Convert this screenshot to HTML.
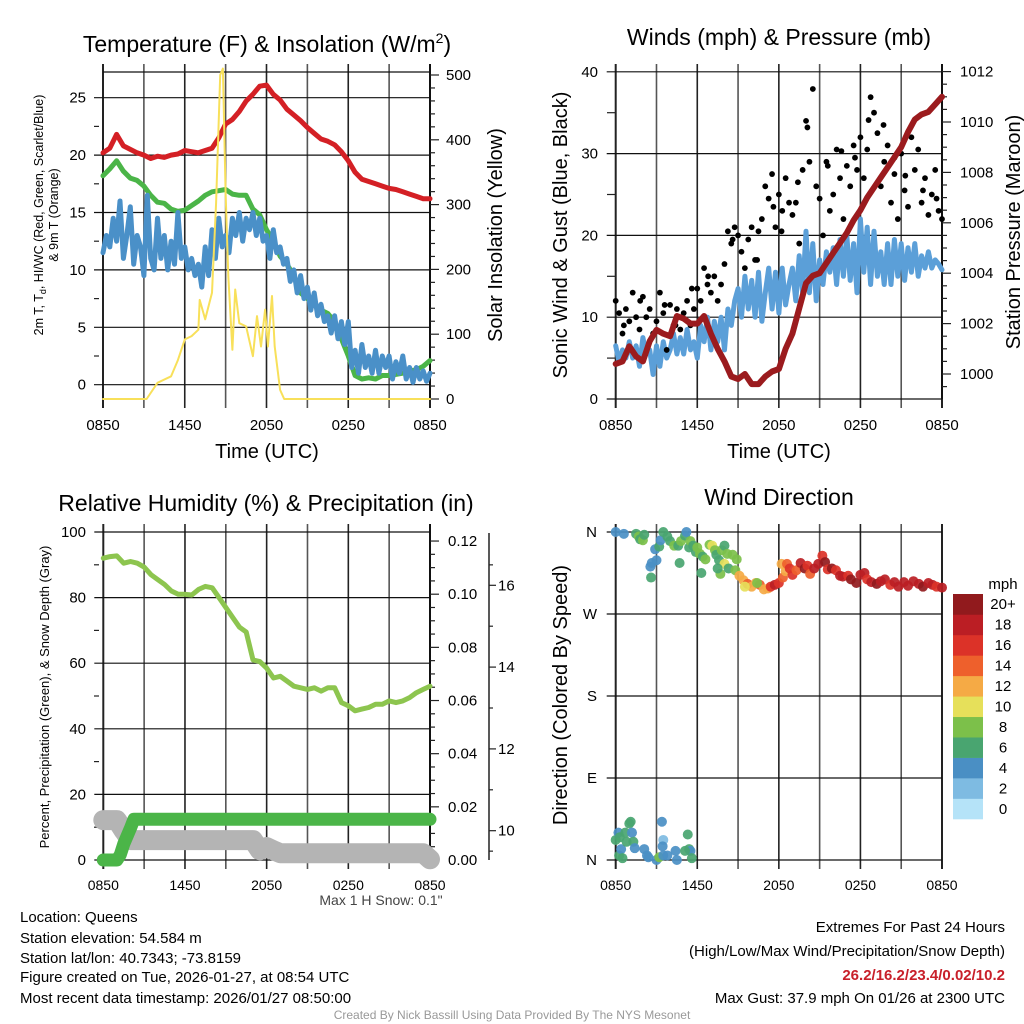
<!DOCTYPE html>
<html><head><meta charset="utf-8"><style>
html,body{margin:0;padding:0;background:#fff;}
svg{display:block;font-family:"Liberation Sans",Arial,sans-serif;}
</style></head><body>
<svg id="chart" width="1024" height="1024" viewBox="0 0 1024 1024" xmlns="http://www.w3.org/2000/svg">
<rect width="1024" height="1024" fill="#fff"/>
<text x="267" y="52" font-size="23" text-anchor="middle">Temperature (F) &amp; Insolation (W/m<tspan font-size="14" dy="-9">2</tspan><tspan dy="9">)</tspan></text>
<text x="779" y="45" font-size="23" text-anchor="middle">Winds (mph) &amp; Pressure (mb)</text>
<text x="266" y="511" font-size="23" text-anchor="middle">Relative Humidity (%) &amp; Precipitation (in)</text>
<text x="779" y="505" font-size="23" text-anchor="middle">Wind Direction</text>
<text transform="translate(43,215) rotate(-90)" font-size="12.5" text-anchor="middle">2m T, T<tspan font-size="9" dy="3">d</tspan><tspan dy="-3">, HI/WC (Red, Green, Scarlet/Blue)</tspan></text>
<text transform="translate(58,215) rotate(-90)" font-size="12.5" text-anchor="middle">&amp; 9m T (Orange)</text>
<text transform="translate(502,235) rotate(-90)" font-size="20" text-anchor="middle">Solar Insolation (Yellow)</text>
<text x="267" y="458" font-size="20" text-anchor="middle">Time (UTC)</text>
<text transform="translate(567,235) rotate(-90)" font-size="20" text-anchor="middle">Sonic Wind &amp; Gust (Blue, Black)</text>
<text transform="translate(1020,232) rotate(-90)" font-size="20" text-anchor="middle">Station Pressure (Maroon)</text>
<text x="779" y="458" font-size="20" text-anchor="middle">Time (UTC)</text>
<text transform="translate(49,697) rotate(-90)" font-size="13" text-anchor="middle">Percent, Precipitation (Green), &amp; Snow Depth (Gray)</text>
<text transform="translate(567,695) rotate(-90)" font-size="20" text-anchor="middle">Direction (Colored By Speed)</text>
<text x="381" y="905" font-size="14" fill="#444" text-anchor="middle">Max 1 H Snow: 0.1"</text>
<g font-size="15">
<text x="20" y="922">Location: Queens</text>
<text x="20" y="943">Station elevation: 54.584 m</text>
<text x="20" y="963">Station lat/lon: 40.7343; -73.8159</text>
<text x="20" y="982">Figure created on Tue, 2026-01-27, at 08:54 UTC</text>
<text x="20" y="1003">Most recent data timestamp: 2026/01/27 08:50:00</text>
</g>
<g font-size="15" text-anchor="end">
<text x="1005" y="932">Extremes For Past 24 Hours</text>
<text x="1005" y="956">(High/Low/Max Wind/Precipitation/Snow Depth)</text>
<text x="1005" y="980" fill="#c8202a" font-weight="bold">26.2/16.2/23.4/0.02/10.2</text>
<text x="1005" y="1003">Max Gust: 37.9 mph On 01/26 at 2300 UTC</text>
</g>
<text x="512" y="1019" font-size="12" fill="#999" text-anchor="middle">Created By Nick Bassill Using Data Provided By The NYS Mesonet</text>
</svg>
<script>
const xTickLabels = ["0850","1450","2050","0250","0850"];
const airTemp = [20.2,20.6,21.8,20.8,20.5,20.2,20.0,19.7,19.9,19.8,20.0,20.1,20.4,20.3,20.2,20.4,20.6,21.5,22.7,23.1,23.8,24.7,25.3,26.0,26.1,25.3,24.8,24.0,23.5,23.0,22.4,21.9,21.4,21.2,20.9,20.3,19.5,18.5,17.9,17.7,17.5,17.3,17.1,17.0,16.8,16.6,16.4,16.2,16.2];
const dewPoint = [18.2,18.8,19.5,18.6,18.0,17.8,17.3,16.5,15.9,15.8,15.3,15.1,15.2,15.6,16.0,16.5,16.8,16.9,17.0,16.6,16.5,16.5,15.3,14.8,13.5,12.5,11.2,10.5,9.5,8.0,7.5,7.0,6.5,6.2,5.5,4.0,2.5,0.8,0.5,0.6,0.5,0.8,0.8,0.9,1.0,1.2,1.3,1.6,2.1];
const windChill = [11.5,13,12,14.5,12.5,16,11,13,15.5,10.5,13,12,9.5,16.5,11,10,14.5,11,13,10,12.5,10.5,15,11,12,10,11,9.5,10.5,8.5,12,9.5,13.5,11,14.5,12,13,11.5,14.5,13,15,12.5,14.5,13.5,15,13,14.5,12.5,13,11,13.5,11.5,12,10.5,11,9,10,8,9.5,7.5,8.5,6.5,8,6,7,5.5,6,4.5,6,4,5.5,3.5,5.5,1.5,3,1,3.5,1.5,2.5,1,3,1,2.5,1.5,2.5,0.5,2,1,2.5,0.5,1.5,0.2,1.5,0.5,1.2,0.3,1.0];
const solarT = [0,3.2,4,5,5.5,6,6.5,7,7.1,7.5,8,8.3,8.6,8.8,9,9.2,9.5,9.7,10,10.5,11,11.3,11.6,11.9,12.1,12.4,12.6,13,13.3,24];
const solarV = [0,0,25,35,60,92,97,107,153,123,164,303,500,510,318,190,76,169,117,112,66,128,81,138,81,159,81,14,0,0];
const pressure = [1000.4,1000.5,1001.1,1000.7,1000.5,1001.3,1001.75,1001.6,1001.5,1002.3,1002.2,1002.0,1002.0,1002.3,1001.6,1001.0,1000.5,999.9,999.8,1000.0,999.6,999.6,999.9,1000.1,1000.2,1001.0,1001.6,1002.6,1003.6,1003.9,1004.0,1004.4,1004.8,1005.2,1005.6,1006.1,1006.5,1007.0,1007.4,1007.8,1008.2,1008.6,1009.0,1009.6,1010.1,1010.3,1010.4,1010.7,1011.0];
const windSpeed = [6.5,4.5,6,5,7,5,6.5,4,7.5,5.5,6,3,6.5,4,7,5,6,8,5.5,7.5,5.5,8.5,6,7,5,9,7,10,6,9.5,7,10,6,11,9,12,13.5,10,15,11,14.5,10,15.5,9.5,13,16,11,15.5,10.5,16,11.5,14,16,12,17.5,13,20.5,13,19,12,17,14,18,15.5,18.5,14,19.5,15,20,14.5,19,13,22,15.5,21,14,20.5,15,18,14,19,14,19.5,15,19,14.5,18.5,15.5,19,15,17.5,16,18,16,17,16.5,15.8];
const windGust = [12,10.5,8,11,9.5,13,10,8.5,12.5,10,11,8,9.5,13,10.5,6,11.5,9,11,8.5,10.5,12,9,11,13.5,12,16,14,13,15,12,14,16.5,20.5,19,21,20,18,16,19.5,21,17,20.5,22,26,24.5,27.5,21,25,23,27,24,22.5,24,19,28,34,29,37.9,26,24.5,20,29,23,25,30.5,27,22,28.5,26,31,28,32,27,30.5,36.9,35,32.5,26,29,31,24,27.5,22,30,25.5,23.5,32,28,30.5,24,27,22.5,25,28,23,22];
const extraGustT = [0.6,1.8,3.6,4.4,5.6,6.8,8.6,10.4,11.6,12.2,13.4,14.1,15.6,16.6,17.6,18.6,19.7,20.5,21.3,22.6,23.6];
const extraGustV = [9,12,11.5,9,13.5,15,19.5,17,23.5,20.5,26.5,33.2,28.5,30.3,29.5,34.1,33.5,29.5,27.3,25.5,24.5];
const relHum = [92,92.5,92.7,90.5,91,90.5,89.3,87,85.5,84,82,81,81,80.8,82.5,83.4,83,80,77,74,71,69.5,61,60.5,58.5,55.5,56,54.5,53,52.5,52,52.5,51.5,52.5,52.5,48,47,45.5,46,46.5,47.5,47.5,48.5,48,48.5,49.5,51,52,53];
const precipT = [0,1.0,1.25,1.5,1.75,2.0,2.25,24];
const precipV = [0,0,0.002,0.006,0.009,0.012,0.0153,0.0153];
const snowT = [0,1,1.5,2,11,11.5,12,12.5,13,23.5,24];
const snowV = [10.26,10.26,10.0,9.77,9.77,9.52,9.6,9.52,9.45,9.45,9.3];
const dirT = [0,0.6,1.5,1.7,1.8,2.0,2.1,2.55,2.65,2.6,2.9,3.0,3.2,3.3,3.5,3.8,4.0,4.3,4.7,4.6,4.8,5.1,5.2,5.4,5.5,5.7,5.9,6.0,6.2,6.4,6.3,6.6,6.9,7.1,7.3,7.4,7.6,7.8,8.0,8.2,8.6,8.9,8.0,7.7,7.5,8.3,8.8,9.1,9.4,9.7,10.0,10.3,10.6,10.9,11.2,11.4,11.7,12.0,12.3,12.5,12.2,12.6,12.8,13.0,13.3,13.6,13.9,14.1,14.3,14.6,14.9,15.2,15.4,15.6,15.9,16.2,16.5,16.7,17.1,17.3,17.7,18.0,18.3,18.5,18.8,19.2,19.5,19.8,20.2,20.5,20.8,21.2,21.5,21.9,22.3,22.6,23.0,23.3,23.6,24.0,9.5,10.4,0,0.2,0.3,0.25,0.4,0.5,0.7,0.8,1.0,1.1,1.2,1.3,1.4,2.1,2.3,2.4,3.0,3.2,3.4,3.5,3.45,3.5,3.8,4.4,4.5,5.3,5.4,5.5,5.6,5.1];
const dirD = [360,358,358,355,352,351,357,322,326,310,341,329,344,351,360,355,350,345,326,345,350,356,360,343,350,345,338,343,336,333,315,330,346,345,340,335,329,340,345,336,335,330,325,314,320,320,318,312,307,303,300,304,302,297,298,300,302,304,310,317,325,325,320,313,318,326,320,323,314,320,325,334,327,319,320,318,312,311,312,308,304,313,315,308,305,303,306,308,302,305,300,305,301,306,303,300,304,302,300,299,300,304,22,30,25,5,12,2,30,20,40,42,30,20,13,12,5,3,0,3,42,22,15,5,5,10,0,28,12,10,2,10];
const dirS = [4,4,6,7,6,8,6,4,4,6,4,4,6,4,6,6,6,7,6,6,7,6,4,5,8,6,6,8,8,6,6,8,8,10,8,6,6,8,6,8,8,8,10,8,6,6,8,12,12,14,12,12,14,12,12,16,18,16,14,12,12,14,16,16,14,18,20,16,14,18,18,16,20,16,20,16,18,18,16,20,20,18,18,16,18,20,18,18,16,18,18,18,18,18,18,20,18,18,16,18,10,8,6,4,6,6,4,6,6,6,6,6,4,6,4,4,4,4,4,8,4,2,4,4,4,4,4,6,6,4,6,6];
const speedBins = ["0","2","4","6","8","10","12","14","16","18","20+"];
const binColors = ["#b5e3f8","#7ebbe2","#4a8fc4","#49a570","#7cc04a","#e6e05a","#f5aa45","#ee602c","#dc3228","#bb1e24","#911a1d"];

const NS='http://www.w3.org/2000/svg';
const svg=document.getElementById('chart');
function mk(tag, attrs, parent){const e=document.createElementNS(NS,tag);for(const k in attrs)e.setAttribute(k,attrs[k]);(parent||svg).appendChild(e);return e;}
function txt(s,x,y,size,anchor,parent){const e=mk('text',{x:x,y:y,'font-size':size,'text-anchor':anchor||'middle'},parent);e.textContent=s;return e;}

const x1=t=>103+t*327/24, yT=v=>384.7-v*11.48, yS=v=>399-v*0.648;
const x2=t=>615.7+t*326.3/24, yW=v=>399-v*8.18, yP=p=>374-(p-1000)*25.2;
const x3=t=>103.3+t*326.7/24, yR=v=>860-v*3.28, yPr=p=>860-p*2658, ySn=s=>830.7-(s-10)*40.9;
const x4=t=>615.7+t*326.3/24, yD=d=>860-d*328/360;

function frame(name,xs,y0,y1,hy,x0,xe,labY,labSize){
  const g=mk('g',{});
  
  
  for(let i=0;i<=8;i++){
    const x=xs(i*3);
    const l=mk('line',{x1:x,x2:x,y1:y0-8,y2:y1+9,stroke:(i%2?'#555':'#222'),'stroke-width':(i==0||i==8)?2:1.6},g);
    
    
  }
  hy.forEach(y=>{
    const l=mk('line',{x1:x0-9,x2:xe,y1:y,y2:y,stroke:'#111','stroke-width':1.2},g);
    
    
  });
  xTickLabels.forEach((s,i)=>{
    const t=txt(s,xs(i*6),labY,labSize,'middle',g);
    
    
  });
  return g;
}
function ticks(name,x,vals,yf,len,labels,lx,anchor,size){
  const g=mk('g',{});
  
  
  vals.forEach(v=>{mk('line',{x1:x,x2:x+len,y1:yf(v),y2:yf(v),stroke:'#222','stroke-width':1.2},g);});
  if(labels) labels.forEach(([v,s])=>{const t=txt(s,lx,yf(v)+5,size,anchor,g);});
}
function line(name,pts,color,w,parent){
  const p=mk('polyline',{points:pts.map(q=>q[0].toFixed(1)+','+q[1].toFixed(1)).join(' '),fill:'none',stroke:color,'stroke-width':w,'stroke-linejoin':'round','stroke-linecap':'round'},parent);
  
  
  return p;
}

// Panel 1
frame('temperature-grid',x1,72,399,[0,5,10,15,20,25].map(yT),103,430,430,15);
mk('line',{x1:103,x2:430,y1:72,y2:72,stroke:'#111','stroke-width':1.2});
ticks('temperature-minor-ticks',94,[2.5,7.5,12.5,17.5,22.5],yT,5);
ticks('temperature-y-axis',94,[],yT,0,[[0,'0'],[5,'5'],[10,'10'],[15,'15'],[20,'20'],[25,'25']],86,'end',15);
mk('line',{x1:430,x2:430,y1:64,y2:399,stroke:'#111','stroke-width':2});
ticks('insolation-major-ticks',430,[0,100,200,300,400,500],yS,9,[[0,'0'],[100,'100'],[200,'200'],[300,'300'],[400,'400'],[500,'500']],446,'start',15);
ticks('insolation-minor-ticks',430,[20,40,60,80,120,140,160,180,220,240,260,280,320,340,360,380,420,440,460,480],yS,5);
line('air-temperature-line',airTemp.map((v,i)=>[x1(i*0.5),yT(v)]),'#d42025',5);
line('dew-point-line',dewPoint.map((v,i)=>[x1(i*0.5),yT(v)]),'#4bb548',5);
line('wind-chill-line',windChill.map((v,i)=>[x1(i*0.25),yT(v)]),'#4a90c8',5);
line('solar-insolation-line',solarT.map((t,i)=>[x1(t),yS(solarV[i])]),'#f8e05a',2);

// Panel 2
frame('wind-grid',x2,72,399,[0,10,20,30,40].map(yW),615.7,942,430,15);
ticks('wind-minor-ticks',607,[5,15,25,35],yW,8);
ticks('wind-y-axis',607,[],yW,0,[[0,'0'],[10,'10'],[20,'20'],[30,'30'],[40,'40']],598,'end',15);
mk('line',{x1:942,x2:942,y1:64,y2:399,stroke:'#111','stroke-width':2});
ticks('pressure-major-ticks',942,[1000,1002,1004,1006,1008,1010,1012],yP,9,[[1000,'1000'],[1002,'1002'],[1004,'1004'],[1006,'1006'],[1008,'1008'],[1010,'1010'],[1012,'1012']],960,'start',15);
ticks('pressure-minor-ticks',942,[999.5,1000.5,1001,1001.5,1002.5,1003,1003.5,1004.5,1005,1005.5,1006.5,1007,1007.5,1008.5,1009,1009.5,1010.5,1011,1011.5],yP,5);
line('sonic-wind-line',windSpeed.map((v,i)=>[x2(i*0.25),yW(v)]),'#5b9fd8',5);
const gg=mk('g',{});


windGust.forEach((v,i)=>{const c=mk('circle',{cx:x2(i*0.25),cy:yW(v),r:2.9,fill:'#000'},gg);});
extraGustT.forEach((t,i)=>{const c=mk('circle',{cx:x2(t),cy:yW(extraGustV[i]),r:2.9,fill:'#000'},gg);});
line('station-pressure-line',pressure.map((p,i)=>[x2(i*0.5),yP(p)]),'#9b1b1e',6);

// Panel 3
frame('humidity-grid',x3,532,860,[0,20,40,60,80,100].map(yR),103.3,430,890,14);
ticks('humidity-minor-ticks',94,[10,30,50,70,90],yR,5);
ticks('humidity-y-axis',94,[],yR,0,[[0,'0'],[20,'20'],[40,'40'],[60,'60'],[80,'80'],[100,'100']],86,'end',15);
mk('line',{x1:430,x2:430,y1:524,y2:860,stroke:'#111','stroke-width':2});
ticks('precip-major-ticks',430,[0,0.02,0.04,0.06,0.08,0.10,0.12],yPr,9,[[0,'0.00'],[0.02,'0.02'],[0.04,'0.04'],[0.06,'0.06'],[0.08,'0.08'],[0.10,'0.10'],[0.12,'0.12']],448,'start',15);
ticks('precip-minor-ticks',430,[0.005,0.01,0.015,0.025,0.03,0.035,0.045,0.05,0.055,0.065,0.07,0.075,0.085,0.09,0.095,0.105,0.11,0.115],yPr,5);
mk('line',{x1:489,x2:489,y1:533,y2:860,stroke:'#222','stroke-width':1.5});
ticks('snow-major-ticks',489,[10,12,14,16],ySn,7,[[10,'10'],[12,'12'],[14,'14'],[16,'16']],498,'start',15);
ticks('snow-minor-ticks',489,[9.5,11,13,15,16.5],ySn,4);
line('snow-depth-line',snowT.map((t,i)=>[x3(t),ySn(snowV[i])]),'#b4b4b4',20);
line('precipitation-line',precipT.map((t,i)=>[x3(t),yPr(precipV[i])]),'#4bb548',13);
line('relative-humidity-line',relHum.map((v,i)=>[x3(i*0.5),yR(v)]),'#8dc54f',5);

// Panel 4
frame('direction-grid',x4,532,860,[0,90,180,270,360].map(yD),615.7,942,890,14);
ticks('direction-y-axis',607,[],yD,0,[[0,'N'],[90,'E'],[180,'S'],[270,'W'],[360,'N']],597,'end',15);
const dg=mk('g',{});


dirT.forEach((t,i)=>{
  const b=Math.min(10,Math.round(dirS[i]/2));
  const c=mk('circle',{cx:x4(t),cy:yD(dirD[i]),r:5,fill:binColors[b],'fill-opacity':0.92},dg);
  
  
});
const cb=mk('g',{});


const ct=txt('mph',1003,589,15,'middle',cb);


speedBins.forEach((s,i)=>{
  const h=225/11, y=819-(i+1)*h;
  const r=mk('rect',{x:953,y:y,width:30,height:h+0.3,fill:binColors[i]},cb);
  
  
  const t=txt(s,1003,y+h/2+5,15,'middle',cb);
  
  
});
</script>
</body></html>
